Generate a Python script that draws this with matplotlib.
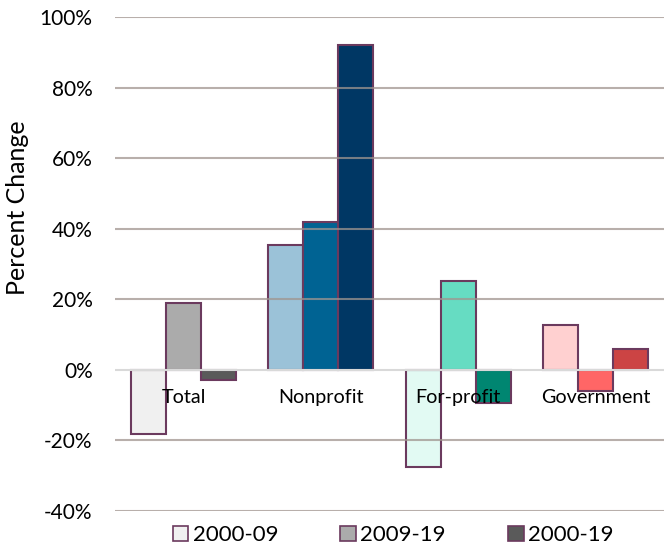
import matplotlib.pyplot as plt
import numpy as np
from matplotlib.patches import Patch

plt.rcParams['font.family'] = ['Lato', 'DejaVu Sans']

categories = ['Total', 'Nonprofit', 'For-profit', 'Government']
periods = ['2000-09', '2009-19', '2000-19']
v_2000_09 = [-18.2, 35.5, -27.6, 12.8]
v_2009_19 = [19.0, 41.8, 25.3, -6.0]
v_2000_19 = [-2.8, 92.0, -9.4, 6.0]

# colours per category: light / medium / dark
colors = [
    ['#f0f0f0', '#ababab', '#5a5a5a'],
    ['#9bc2d8', '#006393', '#003764'],
    ['#e2faf3', '#66dcc2', '#008671'],
    ['#ffd0d0', '#ff6666', '#cc4444'],
]
legend_colors = ['#f0f0f0', '#ababab', '#5a5a5a']
edge = '#6b3a5e'

fig = plt.figure(figsize=(6.64, 5.5), dpi=100)
ax = fig.add_axes([0.173, 0.071, 0.827, 0.898])

x = np.arange(len(categories))
w = 0.255
series = [v_2000_09, v_2009_19, v_2000_19]
for j, vals in enumerate(series):
    for i, v in enumerate(vals):
        ax.bar(x[i] + (j - 1) * w, v, w, color=colors[i][j],
               edgecolor=edge, linewidth=1.5, zorder=2)

ax.set_xlim(-0.5, 3.5)
ax.set_ylim(-40, 100)
ax.set_yticks(range(-40, 101, 20))
ax.set_yticklabels([f'{t}%' for t in range(-40, 101, 20)], fontsize=15)
for t in range(-40, 101, 20):
    if t == 0:
        ax.axhline(t, color='#d9d9d9', lw=1.5, zorder=3)
    else:
        ax.axhline(t, color='#a0958f', lw=1.5, alpha=0.75, zorder=3)
ax.set_xticks([])
ax.tick_params(axis='y', length=0, pad=16)
for s in ax.spines.values():
    s.set_visible(False)
ax.set_ylabel('Percent Change', fontsize=18)
ax.yaxis.set_label_coords(-0.156, 0.615)

for i, c in enumerate(categories):
    ax.text(x[i], -7.7, c, ha='center', va='center', fontsize=14.2, zorder=5)

handles = [Patch(facecolor=legend_colors[k], edgecolor=edge, linewidth=1.2)
           for k in range(3)]
fig.legend(handles, periods, loc='center', bbox_to_anchor=(0.592, 0.027),
           ncol=3, frameon=False, fontsize=16, handlelength=0.7,
           handleheight=0.7, handletextpad=0.2, columnspacing=2.8)

fig.savefig('out.png', dpi=100)
